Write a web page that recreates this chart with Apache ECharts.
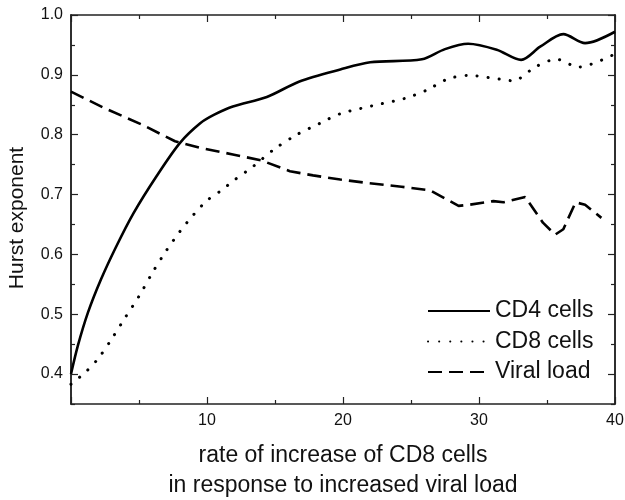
<!DOCTYPE html>
<html>
<head>
<meta charset="utf-8">
<script src="https://cdn.jsdelivr.net/npm/echarts@6/dist/echarts.min.js"></script>
<style>html,body{margin:0;padding:0;background:#fff}#c{width:625px;height:500px}</style>
</head>
<body>
<div id="c"></div>
<script>
var seriesNames = ['CD4 cells', 'CD8 cells', 'Viral load'];
var cd4X = [0, 0.5, 1.25, 2.2, 3.3, 4.6, 6.3, 8.0, 9.5, 10.5, 11.9, 14.4, 16.8, 19.8, 22, 25.8, 27.5, 29.2, 31.3, 33.1, 34.5, 36.2, 37.8, 40];
var cd4Y = [0.40, 0.447, 0.503, 0.558, 0.612, 0.669, 0.731, 0.786, 0.819, 0.833, 0.847, 0.863, 0.889, 0.909, 0.921, 0.926, 0.943, 0.952, 0.942, 0.925, 0.947, 0.968, 0.953, 0.972];
var cd8X = [0, 1.1, 2.0, 3.0, 4.0, 5.0, 6.0, 7.0, 8.0, 9.0, 10.0, 11.0, 12.0, 13.4, 14.9, 16.6, 18.3, 19.8, 22.1, 24.6, 26.2, 27.7, 29.2, 31.8, 32.5, 34.2, 35.7, 37.3, 40];
var cd8Y = [0.383, 0.404, 0.426, 0.459, 0.495, 0.530, 0.570, 0.606, 0.638, 0.666, 0.690, 0.706, 0.724, 0.747, 0.775, 0.800, 0.819, 0.835, 0.848, 0.861, 0.875, 0.893, 0.899, 0.892, 0.890, 0.914, 0.926, 0.913, 0.935];
var viralX = [0, 2.5, 5.2, 7.65, 9.5, 11.9, 14.0, 16.1, 17.8, 19.8, 21.9, 24.3, 26.4, 28.5, 29.3, 31.05, 31.8, 33.4, 34.7, 35.6, 36.2, 37.1, 37.8, 39.0];
var viralY = [0.872, 0.844, 0.817, 0.789, 0.778, 0.767, 0.757, 0.739, 0.732, 0.725, 0.719, 0.713, 0.707, 0.681, 0.683, 0.689, 0.687, 0.696, 0.653, 0.633, 0.642, 0.687, 0.683, 0.661];
var yMajorTicks = [0.4, 0.5, 0.6, 0.7, 0.8, 0.9, 1.0];
var yMinorTicks = [0.35, 0.45, 0.55, 0.65, 0.75, 0.85, 0.95];
var xTickLabels = ['', '10', '20', '30', '40'];

function pairs(xs, ys) { return xs.map(function (x, i) { return [x, ys[i]]; }); }

var FONT = 'Liberation Sans, Arial, sans-serif';
var axisCol = '#222';
var yMin = 0.35, yMax = 1.0;

function yAx(pos, ticks, len, labels) {
  return {
    type: 'value', position: pos, min: yMin, max: yMax,
    axisLine: { show: true, lineStyle: { color: axisCol, width: 1.5 } },
    axisTick: { show: true, inside: true, length: len, customValues: ticks, lineStyle: { color: axisCol, width: 1.2 } },
    axisLabel: labels ? { show: true, customValues: ticks, margin: 8, color: '#111', fontSize: 16, fontFamily: FONT,
      formatter: function (v) { return v.toFixed(1); } } : { show: false },
    splitLine: { show: false }
  };
}
function xAx(pos, labels) {
  return {
    type: 'value', position: pos, min: 0, max: 40, interval: 10,
    axisLine: { show: true, onZero: false, lineStyle: { color: axisCol, width: 1.5 } },
    axisTick: { show: true, inside: true, length: 7, lineStyle: { color: axisCol, width: 1.2 } },
    minorTick: { show: true, splitNumber: 2, length: 4, lineStyle: { color: axisCol, width: 1.2 } },
    axisLabel: labels ? { show: true, margin: 9, color: '#111', fontSize: 16, fontFamily: FONT,
      formatter: function (v) { return xTickLabels[Math.round(v / 10)]; } } : { show: false },
    splitLine: { show: false }, minorSplitLine: { show: false }
  };
}

var xMain = xAx('bottom', true);
xMain.name = 'rate of increase of CD8 cells\nin response to increased viral load';
xMain.nameLocation = 'middle';
xMain.nameGap = 37;
xMain.nameTextStyle = { fontSize: 23, fontFamily: FONT, color: '#111', lineHeight: 30 };

var yMain = yAx('left', yMajorTicks, 7, true);
yMain.name = 'Hurst exponent';
yMain.nameLocation = 'middle';
yMain.nameGap = 43;
yMain.nameTextStyle = { fontSize: 21, fontFamily: FONT, color: '#111', padding: [0, 17, 0, 0] };

var chart = echarts.init(document.getElementById('c'));
chart.setOption({
  animation: false,
  backgroundColor: '#fff',
  grid: { left: 71, right: 10, top: 15, bottom: 96, containLabel: false, outerBoundsMode: 'none' },
  xAxis: [xMain, xAx('top', false)],
  yAxis: [yMain, yAx('left', yMinorTicks, 4, false), yAx('right', yMajorTicks, 7, false), yAx('right', yMinorTicks, 4, false)],
  legend: {
    orient: 'vertical', left: 422, top: 294, itemWidth: 62, itemHeight: 14, itemGap: 6.5,
    itemStyle: { opacity: 0 },
    textStyle: { fontSize: 23, lineHeight: 24, fontFamily: FONT, color: '#111' },
    data: seriesNames
  },
  series: [
    { name: seriesNames[0], type: 'line', data: pairs(cd4X, cd4Y), smooth: 0.3, symbol: 'none',
      lineStyle: { color: '#000', width: 2.6 }, itemStyle: { color: '#000' } },
    { name: seriesNames[1], type: 'line', data: pairs(cd8X, cd8Y), smooth: 0.3, symbol: 'none',
      lineStyle: { color: '#000', width: 3, type: [0.1, 11], cap: 'round' }, itemStyle: { color: '#000' } },
    { name: seriesNames[2], type: 'line', data: pairs(viralX, viralY), smooth: false, symbol: 'none',
      lineStyle: { color: '#000', width: 2.6, type: [14, 7] }, itemStyle: { color: '#000' } }
  ]
});
</script>
</body>
</html>
